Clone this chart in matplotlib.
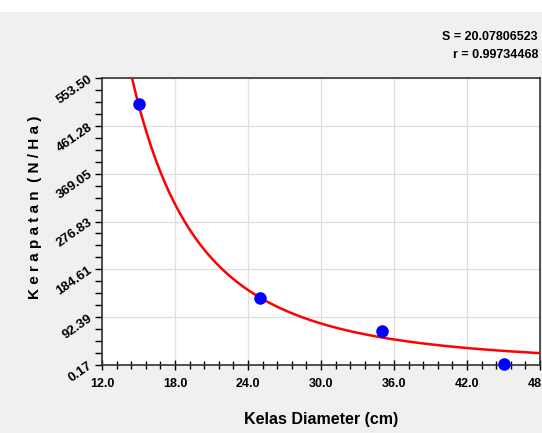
import matplotlib.pyplot as plt
from matplotlib.ticker import AutoMinorLocator
from matplotlib.patches import Rectangle
import numpy as np

# data
diameter = [15, 25, 35, 45]
density = [503, 129, 66, 2]
xticks = [12.0, 18.0, 24.0, 30.0, 36.0, 42.0, 48.0]
ytick_labels = ["0.17", "92.39", "184.61", "276.83", "369.05", "461.28", "553.50"]
# fitted curve parameters (y = a * x^-b)
fit_a = 658000.0
fit_b = 2.65

plt.rcParams['font.family'] = ['Liberation Sans', 'DejaVu Sans']

fig = plt.figure(figsize=(5.42, 4.33), dpi=100, facecolor='#f0f0f0')
fig.patches.append(Rectangle((0, 1 - 12/433), 1, 12/433, transform=fig.transFigure,
                             facecolor='white', edgecolor='none', zorder=0))
ax = fig.add_axes([102/542, 68/433, 438/542, 287/433])
ax.set_facecolor('white')

yticks = [float(v) for v in ytick_labels]
ax.set_xlim(12, 48)
ax.set_ylim(yticks[0], yticks[-1])

xs = np.linspace(13, 48, 400)
ax.plot(xs, fit_a * xs ** (-fit_b), color='red', lw=1.8, zorder=3)
ax.plot(diameter, density, 'o', color='blue', markersize=8, zorder=4, clip_on=False)

ax.set_xticks(xticks)
ax.set_xticklabels(["%.1f" % v for v in xticks], fontsize=9, fontweight='bold')
ax.set_yticks(np.linspace(yticks[0], yticks[-1], 7))
ax.set_yticklabels(ytick_labels, fontsize=9.5, fontweight='bold', rotation=35,
                   va='center', ha='right', rotation_mode='anchor')
ax.xaxis.set_minor_locator(AutoMinorLocator(5))
ax.yaxis.set_minor_locator(AutoMinorLocator(4))
ax.tick_params(axis='x', which='both', direction='inout', length=7, width=1, pad=6)
ax.tick_params(axis='x', which='minor', length=6)
ax.tick_params(axis='y', which='both', direction='out', length=5, width=1, pad=3)
ax.grid(True, which='major', color='#dedede', lw=0.9)
for s in ax.spines.values():
    s.set_color('#333333')
    s.set_linewidth(1.2)

ax.set_xlabel("Kelas Diameter (cm)", fontsize=11.5, fontweight='bold', labelpad=16)
fig.text(35/542, 1 - 207/433, "K e r a p a t a n  ( N / H a )", rotation=90,
         fontsize=11, fontweight='bold', ha='center', va='center')

fig.text(538/542, 1 - 37/433, "S = 20.07806523", ha='right', va='center',
         fontsize=9, fontweight='bold')
fig.text(538/542, 1 - 55/433, "r = 0.99734468", ha='right', va='center',
         fontsize=9, fontweight='bold')

fig.savefig('out.png', dpi=100, facecolor=fig.get_facecolor())
